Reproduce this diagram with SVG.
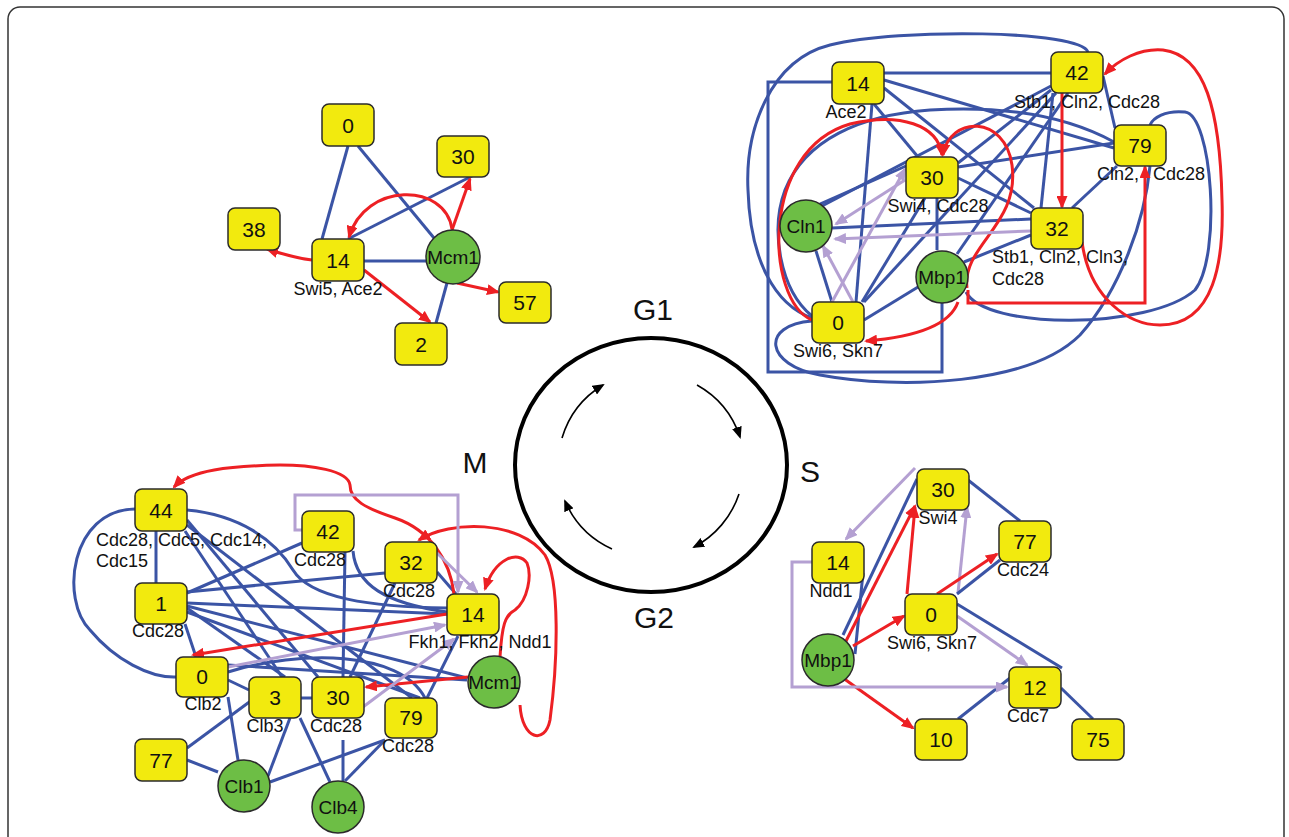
<svg xmlns="http://www.w3.org/2000/svg" width="1289" height="837" viewBox="0 0 1289 837">
<defs>
<style>
.b{stroke:#3b54a5;stroke-width:3;fill:none}
.r{stroke:#ed2024;stroke-width:3;fill:none;marker-end:url(#ar)}
.p{stroke:#b4a0d2;stroke-width:3;fill:none}
.pa{marker-end:url(#ap)}
.box{fill:#f2ea0e;stroke:#2b2b2b;stroke-width:1.5}
.circ{fill:#6dbe45;stroke:#2b2b2b;stroke-width:1.5}
text{font-family:"Liberation Sans",Arial,sans-serif;fill:#111}
.num{font-size:21px;text-anchor:middle}
.cl{font-size:19px;text-anchor:middle}
.lbl{font-size:18px;text-anchor:middle}
.lbs{font-size:18px}
.ph{font-size:30px;text-anchor:middle}
.cyc{stroke:#000;stroke-width:1.6;fill:none;marker-end:url(#ak)}
</style>
<marker id="ar" viewBox="0 0 13 11" refX="11" refY="5.5" markerWidth="13" markerHeight="11" markerUnits="userSpaceOnUse" orient="auto"><path d="M0,0 L13,5.5 L0,11 z" fill="#ed2024"/></marker>
<marker id="ap" viewBox="0 0 13 11" refX="11" refY="5.5" markerWidth="13" markerHeight="11" markerUnits="userSpaceOnUse" orient="auto"><path d="M0,0 L13,5.5 L0,11 z" fill="#b4a0d2"/></marker>
<marker id="ak" viewBox="0 0 12 10" refX="10" refY="5" markerWidth="12" markerHeight="10" markerUnits="userSpaceOnUse" orient="auto"><path d="M0,0 L12,5 L0,10 z" fill="#000"/></marker>
</defs>
<rect x="0" y="0" width="1289" height="837" fill="#fff"/>
<rect x="8" y="7" width="1276" height="900" rx="12" fill="none" stroke="#333" stroke-width="1.5"/>

<!-- cell-cycle wheel -->
<g id="cycle">
<ellipse cx="651" cy="465" rx="136" ry="127" fill="none" stroke="#000" stroke-width="4"/>
<path class="cyc" d="M562,438 A93,93 0 0 1 603,385"/>
<path class="cyc" d="M697,385 A93,93 0 0 1 740,437"/>
<path class="cyc" d="M739,494 A93,93 0 0 1 694,547"/>
<path class="cyc" d="M612,549 A93,93 0 0 1 565,501"/>
<text class="ph" x="653" y="320">G1</text>
<text class="ph" x="810" y="482">S</text>
<text class="ph" x="654" y="628">G2</text>
<text class="ph" x="475" y="473">M</text>
</g>

<g id="connectors">
<!-- M/G1 module -->
<path class="b" d="M348,146 L322,239"/>
<path class="b" d="M358,146 L434,238"/>
<path class="b" d="M348,239 L472,176"/>
<path class="b" d="M364,261 L426,261"/>
<path class="b" d="M447,283 L436,323"/>
<path class="r" d="M452,230 L470,179"/>
<path class="r" d="M452,229 C445,182 365,182 349,237"/>
<path class="r" d="M312,260 C295,258 282,254 267,249"/>
<path class="r" d="M364,270 L430,322"/>
<path class="r" d="M457,283 L498,292"/>

<!-- G1 module -->
<path class="b" d="M884,73 L1051,73"/>
<path class="b" d="M832,82 H768 V372 H942 V303"/>
<path class="b" d="M874,104 L918,157"/>
<path class="b" d="M884,88 L1034,208"/>
<path class="b" d="M884,80 L1114,148"/>
<path class="b" d="M872,104 L856,302"/>
<path class="b" d="M1103,76 L1115,128"/>
<path class="b" d="M1053,93 L1041,208"/>
<path class="b" d="M1051,86 L822,206"/>
<path class="b" d="M1051,90 L958,163"/>
<path class="b" d="M820,204 L906,166"/>
<path class="b" d="M832,228 L1031,219"/>
<path class="b" d="M816,251 L832,302"/>
<path class="b" d="M862,302 L925,198"/>
<path class="b" d="M864,302 L1056,93"/>
<path class="b" d="M864,320 L918,287"/>
<path class="b" d="M937,198 V250"/>
<path class="b" d="M958,178 L1031,213"/>
<path class="b" d="M958,167 L1114,143"/>
<path class="b" d="M964,262 L1031,235"/>
<path class="b" d="M957,254 L1068,93"/>
<path class="b" d="M1072,208 L1117,166"/>
<path class="b" d="M812,316 C780,290 770,230 785,190 C805,140 860,115 930,110 C1010,105 1070,118 1114,142"/>
<path class="b" d="M812,321 C760,325 765,365 820,375 C900,390 1030,385 1080,335 C1120,290 1145,220 1150,166"/>
<path class="b" d="M1088,52 C1080,30 900,28 830,45 C770,60 745,130 748,190 C750,260 775,305 812,318"/>
<path class="b" d="M966,292 C985,330 1150,330 1195,290 C1222,255 1212,115 1185,112 C1165,110 1153,118 1150,125"/>
<path class="r" d="M1062,93 V207"/>
<path class="r" d="M812,320 C765,300 760,150 850,124 C900,112 938,125 942,155"/>
<path class="r" d="M967,288 C962,245 1020,225 1012,165 C1005,115 950,115 943,155"/>
<path class="r" d="M958,302 C950,325 915,337 866,341"/>
<path class="r" d="M968,290 V303 H1145 V167"/>
<path class="r" d="M1082,242 C1090,300 1130,325 1160,325 C1215,325 1224,260 1222,200 C1220,110 1205,55 1163,50 C1140,48 1118,60 1105,74"/>
<path class="p pa" d="M1031,231 L835,239"/>
<path class="p pa" d="M905,180 L836,224"/>
<path class="p pa" d="M853,302 L823,246"/>
<path class="p pa" d="M832,302 L905,169"/>

<!-- S module -->
<path class="b" d="M968,480 L1020,521"/>
<path class="p pa" d="M915,468 L846,539"/>
<path class="b" d="M843,635 L917,479"/>
<path class="b" d="M855,654 L863,573"/>
<path class="r" d="M845,643 L915,506"/>
<path class="r" d="M907,594 L915,507"/>
<path class="p pa" d="M958,593 L967,507"/>
<path class="r" d="M937,594 L997,554"/>
<path class="b" d="M957,594 L1000,560"/>
<path class="r" d="M853,646 L904,616"/>
<path class="b" d="M957,604 L1062,668"/>
<path class="p pa" d="M957,616 L1027,665"/>
<path class="b" d="M1061,688 L1093,719"/>
<path class="b" d="M958,719 L1010,678"/>
<path class="r" d="M843,678 L913,728"/>
<path class="p pa" d="M812,562 H792 V687 H1007"/>

<!-- G2/M module -->
<path class="b" d="M156,531 V583"/>
<path class="b" d="M135,509 C70,510 60,600 90,630 C115,660 150,678 176,677"/>
<path class="b" d="M187,510 C240,515 275,540 293,570 C310,598 370,607 447,608"/>
<path class="b" d="M185,531 L282,677"/>
<path class="b" d="M187,520 L318,677"/>
<path class="b" d="M187,525 L412,698"/>
<path class="b" d="M302,543 L187,593"/>
<path class="b" d="M345,552 L343,677"/>
<path class="b" d="M353,551 C356,585 385,603 447,612"/>
<path class="b" d="M437,572 L456,594"/>
<path class="b" d="M395,583 L350,677"/>
<path class="b" d="M187,592 L385,573"/>
<path class="b" d="M187,603 L447,614"/>
<path class="b" d="M187,608 L285,677"/>
<path class="b" d="M187,612 L420,698"/>
<path class="b" d="M187,606 L467,678"/>
<path class="b" d="M185,624 L196,657"/>
<path class="b" d="M228,680 L249,690"/>
<path class="b" d="M228,697 L238,760"/>
<path class="b" d="M228,665 L467,680"/>
<path class="b" d="M228,672 C300,650 400,650 425,698"/>
<path class="b" d="M301,698 L312,698"/>
<path class="b" d="M252,700 L187,748"/>
<path class="b" d="M290,718 L268,776"/>
<path class="b" d="M300,718 L330,782"/>
<path class="b" d="M187,760 L218,772"/>
<path class="b" d="M270,782 L385,740"/>
<path class="b" d="M343,740 L343,781"/>
<path class="b" d="M385,740 L345,781"/>
<path class="b" d="M427,698 L458,636"/>
<path class="r" d="M454,594 C450,560 430,530 395,518 C365,508 350,500 350,485 C348,470 310,465 280,465 C230,466 190,470 174,487"/>
<path class="r" d="M500,657 C502,625 505,615 515,610 C528,600 532,575 527,563 C518,550 495,558 485,589"/>
<path class="r" d="M520,705 C522,740 545,745 550,720 C558,660 560,580 545,555 C520,520 450,520 419,540"/>
<path class="r" d="M468,677 L366,687"/>
<path class="r" d="M447,614 L193,655"/>
<path class="p pa" d="M228,667 L445,625"/>
<path class="p pa" d="M363,707 L454,639"/>
<path class="p pa" d="M437,553 L477,592"/>
<path class="p pa" d="M302,530 H295 V495 H458 V592"/>
</g>

<!-- M/G1 module nodes -->
<g id="mg1-0"><rect class="box" x="322" y="104" width="52" height="42" rx="7"/><text class="num" x="348" y="133">0</text></g>
<g id="mg1-30"><rect class="box" x="437" y="136" width="52" height="41" rx="7"/><text class="num" x="463" y="164">30</text></g>
<g id="mg1-38"><rect class="box" x="228" y="208" width="52" height="42" rx="7"/><text class="num" x="254" y="237">38</text></g>
<g id="mg1-14"><rect class="box" x="312" y="239" width="52" height="42" rx="7"/><text class="num" x="338" y="268">14</text><text class="lbl" x="338" y="295">Swi5, Ace2</text></g>
<g id="mg1-mcm1"><circle class="circ" cx="453" cy="257" r="27"/><text class="cl" x="453" y="264">Mcm1</text></g>
<g id="mg1-57"><rect class="box" x="499" y="282" width="52" height="41" rx="7"/><text class="num" x="525" y="310">57</text></g>
<g id="mg1-2"><rect class="box" x="395" y="323" width="52" height="42" rx="7"/><text class="num" x="421" y="352">2</text></g>

<!-- G1 module nodes -->
<g id="g1-14"><rect class="box" x="832" y="62" width="52" height="42" rx="7"/><text class="num" x="858" y="91">14</text><text class="lbl" x="846" y="118">Ace2</text></g>
<g id="g1-42"><rect class="box" x="1051" y="52" width="52" height="41" rx="7"/><text class="num" x="1077" y="80">42</text><text class="lbl" x="1087" y="108">Stb1, Cln2, Cdc28</text></g>
<g id="g1-79"><rect class="box" x="1114" y="125" width="52" height="41" rx="7"/><text class="num" x="1140" y="153">79</text><text class="lbs" y="180"><tspan x="1097">Cln2,</tspan><tspan x="1153">Cdc28</tspan></text></g>
<g id="g1-30"><rect class="box" x="906" y="157" width="52" height="41" rx="7"/><text class="num" x="932" y="185">30</text><text class="lbl" x="938" y="212">Swi4, Cdc28</text></g>
<g id="g1-32"><rect class="box" x="1031" y="208" width="52" height="41" rx="7"/><text class="num" x="1057" y="236">32</text><text class="lbs" x="992" y="263">Stb1, Cln2, Cln3,</text><text class="lbs" x="992" y="285">Cdc28</text></g>
<g id="g1-cln1"><circle class="circ" cx="806" cy="226" r="26"/><text class="cl" x="806" y="233">Cln1</text></g>
<g id="g1-mbp1"><circle class="circ" cx="942" cy="277" r="26"/><text class="cl" x="942" y="284">Mbp1</text></g>
<g id="g1-0"><rect class="box" x="812" y="302" width="52" height="41" rx="7"/><text class="num" x="838" y="330">0</text><text class="lbl" x="838" y="357">Swi6, Skn7</text></g>

<!-- S module nodes -->
<g id="s-30"><rect class="box" x="917" y="469" width="52" height="41" rx="7"/><text class="num" x="943" y="497">30</text><text class="lbl" x="938" y="524">Swi4</text></g>
<g id="s-77"><rect class="box" x="999" y="521" width="52" height="41" rx="7"/><text class="num" x="1025" y="549">77</text><text class="lbl" x="1023" y="576">Cdc24</text></g>
<g id="s-14"><rect class="box" x="812" y="542" width="52" height="41" rx="7"/><text class="num" x="838" y="570">14</text><text class="lbl" x="831" y="597">Ndd1</text></g>
<g id="s-0"><rect class="box" x="905" y="594" width="52" height="41" rx="7"/><text class="num" x="931" y="622">0</text><text class="lbl" x="932" y="649">Swi6, Skn7</text></g>
<g id="s-mbp1"><circle class="circ" cx="828" cy="660" r="26"/><text class="cl" x="828" y="667">Mbp1</text></g>
<g id="s-12"><rect class="box" x="1009" y="667" width="52" height="41" rx="7"/><text class="num" x="1035" y="695">12</text><text class="lbl" x="1028" y="722">Cdc7</text></g>
<g id="s-10"><rect class="box" x="915" y="719" width="52" height="41" rx="7"/><text class="num" x="941" y="747">10</text></g>
<g id="s-75"><rect class="box" x="1072" y="719" width="52" height="41" rx="7"/><text class="num" x="1098" y="747">75</text></g>

<!-- G2/M module nodes -->
<g id="m-44"><rect class="box" x="135" y="489" width="52" height="42" rx="7"/><text class="num" x="161" y="518">44</text><text class="lbs" x="96" y="546">Cdc28, Cdc5, Cdc14,</text><text class="lbs" x="96" y="567">Cdc15</text></g>
<g id="m-1"><rect class="box" x="135" y="583" width="52" height="41" rx="7"/><text class="num" x="161" y="611">1</text><text class="lbl" x="158" y="637">Cdc28</text></g>
<g id="m-42"><rect class="box" x="302" y="511" width="52" height="41" rx="7"/><text class="num" x="328" y="539">42</text><text class="lbl" x="320" y="566">Cdc28</text></g>
<g id="m-32"><rect class="box" x="385" y="542" width="52" height="41" rx="7"/><text class="num" x="411" y="570">32</text><text class="lbl" x="409" y="597">Cdc28</text></g>
<g id="m-14"><rect class="box" x="447" y="594" width="52" height="41" rx="7"/><text class="num" x="473" y="622">14</text><text class="lbl" x="480" y="648">Fkh1, Fkh2, Ndd1</text></g>
<g id="m-mcm1"><circle class="circ" cx="494" cy="682" r="26"/><text class="cl" x="494" y="689">Mcm1</text></g>
<g id="m-0"><rect class="box" x="176" y="657" width="52" height="40" rx="7"/><text class="num" x="202" y="684">0</text><text class="lbl" x="203" y="710">Clb2</text></g>
<g id="m-3"><rect class="box" x="249" y="677" width="52" height="41" rx="7"/><text class="num" x="275" y="705">3</text><text class="lbl" x="265" y="732">Clb3</text></g>
<g id="m-30"><rect class="box" x="312" y="677" width="52" height="41" rx="7"/><text class="num" x="338" y="705">30</text><text class="lbl" x="336" y="732">Cdc28</text></g>
<g id="m-79"><rect class="box" x="385" y="698" width="52" height="40" rx="7"/><text class="num" x="411" y="725">79</text><text class="lbl" x="408" y="752">Cdc28</text></g>
<g id="m-77"><rect class="box" x="135" y="739" width="52" height="42" rx="7"/><text class="num" x="161" y="768">77</text></g>
<g id="m-clb1"><circle class="circ" cx="244" cy="786" r="26"/><text class="cl" x="244" y="793">Clb1</text></g>
<g id="m-clb4"><circle class="circ" cx="338" cy="807" r="26"/><text class="cl" x="338" y="814">Clb4</text></g>
</svg>
